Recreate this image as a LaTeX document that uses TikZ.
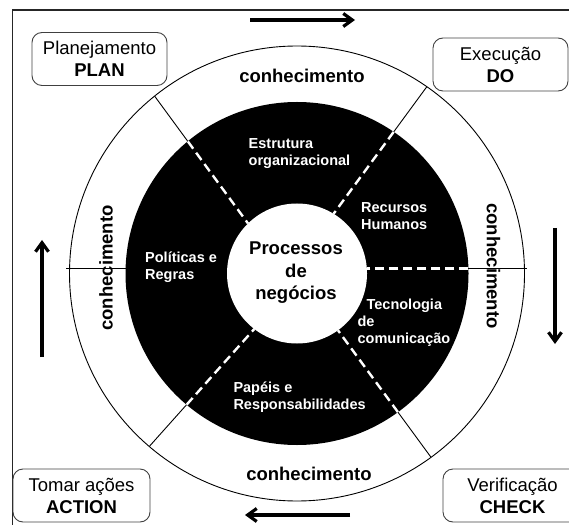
\documentclass[tikz,border=0pt]{standalone}
\usepackage{fontspec}
\setmainfont{Liberation Sans}
\usetikzlibrary{arrows.meta,calc}

\begin{document}
\begin{tikzpicture}[x=1pt, y=1pt,
        frame/.style={draw=black!85, line width=1.6pt},
        ring/.style={draw, line width=0.9pt},
        sector/.style={draw=white, line width=2.4pt, dash pattern=on 9pt off 5pt},
        phase/.style={draw=black!75, line width=0.9pt, rounded corners=10pt,
                      minimum width=135pt, minimum height=53pt, align=center,
                      font=\fontsize{18.5}{22}\selectfont},
        know/.style={font=\bfseries\fontsize{18.5}{22}\selectfont, inner sep=0pt},
        area/.style={text=white, anchor=west, align=left, inner sep=0pt,
                     font=\bfseries\fontsize{14.5}{17}\selectfont},
        cycle/.style={line width=3.2pt, -{Straight Barb[length=9pt, width=13pt]}},
    ]
        \useasboundingbox (0,0) rectangle (569,525);
        \begin{scope}
        \clip (0,0) rectangle (569,525);

        % frame
        \draw[frame] (569,515) -| (12.3,0);

        % rings
        \coordinate (C) at (297,251.5);
        \draw[ring] (C) circle (227.5);

        % radial dividers
        \coordinate (ulo) at ($(C)+(128.75:227.5)$);
        \coordinate (uli) at ($(C)+(134.4:70)$);
        \coordinate (uro) at ($(C)+(55.2:227.5)$);
        \coordinate (uri) at ($(C)+(58.5:70)$);
        \coordinate (lro) at ($(C)+(-53.9:227.5)$);
        \coordinate (lri) at ($(C)+(-54.2:70)$);
        \coordinate (llo) at ($(C)+(229.5:227.5)$);
        \coordinate (lli) at ($(C)+(232.4:70)$);
        \coordinate (ulb) at ($(ulo)!0.356!(uli)$);
        \coordinate (urb) at ($(uro)!0.356!(uri)$);
        \coordinate (lrb) at ($(lro)!0.356!(lri)$);
        \coordinate (llb) at ($(llo)!0.356!(lli)$);
        \coordinate (hl)  at (66,256.7);
        \coordinate (hlb) at (125.6,256.7);
        \coordinate (hrw) at (366.8,256.7);
        \coordinate (hrb) at (468.4,256.7);
        \coordinate (hr)  at (527,256.7);

        \draw[ring] (ulo) -- (ulb);
        \draw[ring] (uro) -- (urb);
        \draw[ring] (lro) -- (lrb);
        \draw[ring] (llo) -- (llb);
        \draw[ring] (hl) -- (hlb);
        \draw[ring] (hrb) -- (hr);

        \fill[black] (C) circle (171.5);
        \fill[white] (C) circle (70);

        \draw[sector] (ulb) -- (uli);
        \draw[sector] (urb) -- (uri);
        \draw[sector] (lrb) -- (lri);
        \draw[sector] (llb) -- (lli);
        \draw[sector] (hrb) -- (hrw);

        % labels
        \node[know] (kt) at (302,449) {conhecimento};
        \node[know] (kb) at (309,51) {conhecimento};
        \node[know, rotate=90] (kl) at (106,257) {conhecimento};
        \node[know, rotate=-90] (kr) at (493.5,259) {conhecimento};

        \node[area] (est) at (248.5,371.6) {Estrutura\\organizacional};
        \node[area] (rh)  at (361,309.2) {Recursos\\Humanos};
        \node[area] (pol) at (145,257.4) {Políticas e\\Regras};
        \node[area] (tec) at (357.4,202) {\hspace*{9pt}Tecnologia\\de\\comunicação};
        \node[area] (pap) at (233.3,127.5) {Papéis e\\Responsabilidades};

        \node[align=center, font=\bfseries\fontsize{18.5}{22.5}\selectfont] (proc)
            at (296,252.2) {Processos\\de\\negócios};

        % PDCA boxes
        \node[phase] (plan) at (99.5,466) {Planejamento\\\textbf{PLAN}};
        \node[phase] (do)   at (500.5,460.5) {Execução\\\textbf{DO}};
        \node[phase, minimum width=137pt] (act) at (81.5,29.5) {Tomar ações\\\textbf{ACTION}};
        \node[phase, minimum width=139pt] (chk) at (512.5,29.5) {Verificação\\\textbf{CHECK}};

        % cycle arrows
        \coordinate (ta) at (250,505);
        \coordinate (tb) at (355,505);
        \coordinate (ra) at (555,297);
        \coordinate (rb) at (555,181);
        \coordinate (ba) at (350,10);
        \coordinate (bb) at (245,10);
        \coordinate (la) at (42,168);
        \coordinate (lb) at (42,285);
        \draw[cycle] (ta) -- (tb);
        \draw[cycle] (ra) -- (rb);
        \draw[cycle] (ba) -- (bb);
        \draw[cycle] (la) -- (lb);
        \end{scope}
    \end{tikzpicture}
\end{document}
